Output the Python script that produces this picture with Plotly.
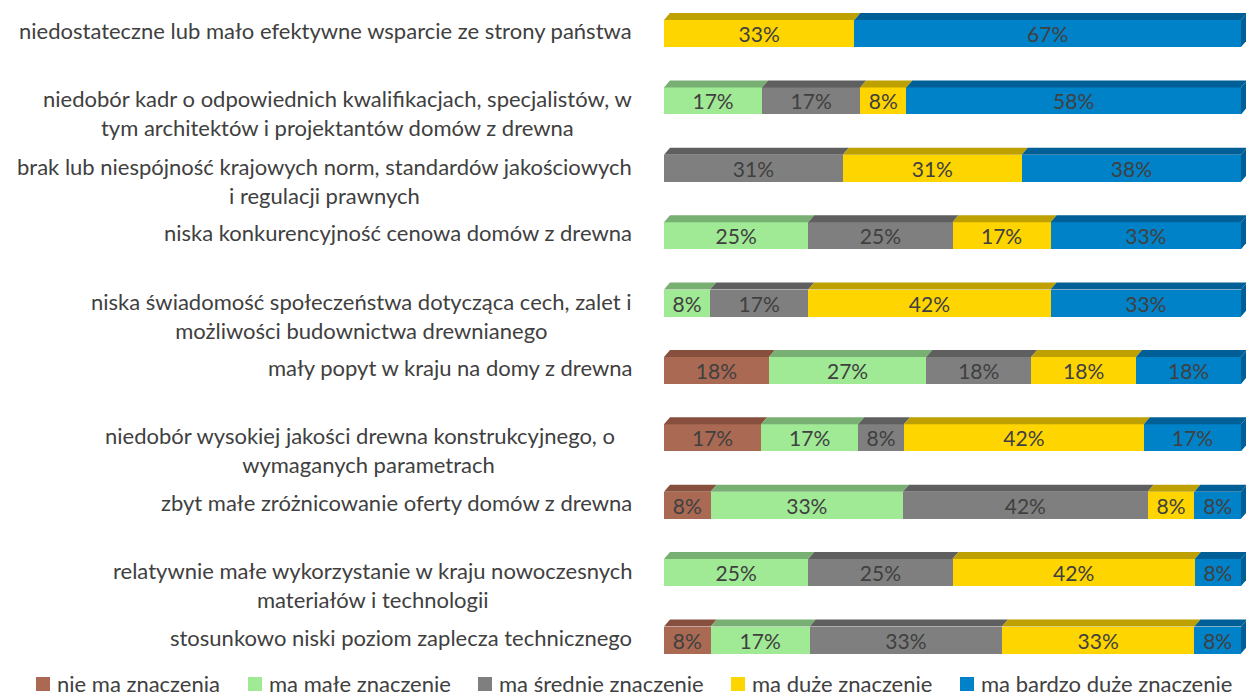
import numpy as np
import plotly.graph_objects as go

categories = [
    "niedostateczne lub mało efektywne wsparcie ze strony państwa",
    "niedobór kadr o odpowiednich kwalifikacjach, specjalistów, w<br>tym architektów i projektantów domów z drewna",
    "brak lub niespójność krajowych norm, standardów jakościowych<br>i regulacji prawnych",
    "niska konkurencyjność cenowa domów z drewna",
    "niska świadomość społeczeństwa dotycząca cech, zalet i<br>możliwości budownictwa drewnianego",
    "mały popyt w kraju na domy z drewna",
    "niedobór wysokiej jakości drewna konstrukcyjnego, o\u00a0\u00a0\u00a0<br>wymaganych parametrach",
    "zbyt małe zróżnicowanie oferty domów z drewna",
    "relatywnie małe wykorzystanie w kraju nowoczesnych<br>materiałów i technologii",
    "stosunkowo niski poziom zaplecza technicznego",
]

series_names = ["nie ma znaczenia", "ma małe znaczenie", "ma średnie znaczenie",
                "ma duże znaczenie", "ma bardzo duże znaczenie"]

nie_ma = [0, 0, 0, 0, 0, 18, 17, 8, 0, 8]
male = [0, 17, 0, 25, 8, 27, 17, 33, 25, 17]
srednie = [0, 17, 31, 25, 17, 18, 8, 42, 25, 33]
duze = [33, 8, 31, 17, 42, 18, 42, 8, 42, 33]
bardzo_duze = [67, 58, 38, 33, 33, 18, 17, 8, 8, 8]

series = [nie_ma, male, srednie, duze, bardzo_duze]
front_colors = ["#AA6953", "#A0EA96", "#7F7F7F", "#FFD500", "#0082C8"]
top_colors = ["#87503E", "#78AF73", "#5F5F5F", "#BEA000", "#005F96"]

FONT = "Lato"
TXT = "#404040"
LABEL_FS = 22
W, H = 1246, 696
L_PX, R_PX = 664, 1246
PLOT_BOTTOM = 665
PX_PER_UNIT = 577 / 100.0
ROW_PX = 67.39
xmax = 100 + (R_PX - L_PX - 577) / PX_PER_UNIT
y_top = -33.5 / ROW_PX
y_bot = 9 + (PLOT_BOTTOM - 640) / ROW_PX
BW = 27 / ROW_PX
DX = 6 / PX_PER_UNIT
DY = 7 / ROW_PX

idx = list(range(len(categories)))

fig = go.Figure()
for name, vals, col in zip(series_names, series, front_colors):
    fig.add_trace(go.Bar(
        y=idx, x=vals, orientation="h", name=name, width=BW,
        marker=dict(color=col, line=dict(width=0)),
        text=[f"{v}%" if v > 0 else "" for v in vals],
        textposition="inside", insidetextanchor="middle", textangle=0,
        textfont=dict(family=FONT, size=21, color=TXT),
        showlegend=False, hoverinfo="skip",
    ))

# 3D faces computed from the data
arr = np.array(series, dtype=float)
totals = arr.sum(axis=0)
shapes = []
for i in idx:
    yt = i - BW / 2
    yb = i + BW / 2
    cum = 0.0
    last_k = None
    for k in range(len(series)):
        v = arr[k, i] / totals[i] * 100
        if v <= 0:
            continue
        x0, x1 = cum, cum + v
        path = (f"M {x0},{yt} L {x1},{yt} L {x1 + DX},{yt - DY} "
                f"L {x0 + DX},{yt - DY} Z")
        shapes.append(dict(type="path", path=path, xref="x", yref="y",
                           fillcolor=top_colors[k], line=dict(width=0), layer="above"))
        cum = x1
        last_k = k
    path = (f"M {cum},{yt} L {cum},{yb} L {cum + DX},{yb - DY} "
            f"L {cum + DX},{yt - DY} Z")
    shapes.append(dict(type="path", path=path, xref="x", yref="y",
                       fillcolor=top_colors[last_k], line=dict(width=0), layer="above"))

# category labels
annotations = []
label_x = (634 - L_PX) / (R_PX - L_PX)
lab_font = dict(family=FONT, size=LABEL_FS, color=TXT)
for i, cat in enumerate(categories):
    two = "<br>" in cat
    annotations.append(dict(x=label_x, xref="paper", y=i, yref="y", text=cat,
                            showarrow=False, xanchor="right", yanchor="middle",
                            align="center", yshift=-12.5 if two else 3, font=lab_font))

# legend (manual)
leg_sq = [36, 248, 478, 731, 960]
leg_y = 684
def px_x(p):
    return (p - L_PX) / (R_PX - L_PX)
def px_y(p):
    return (PLOT_BOTTOM - p) / PLOT_BOTTOM
for name, col, sx in zip(series_names, front_colors, leg_sq):
    shapes.append(dict(type="rect", xref="paper", yref="paper",
                       x0=px_x(sx), x1=px_x(sx + 14), y0=px_y(leg_y + 7), y1=px_y(leg_y - 7),
                       fillcolor=col, line=dict(width=0)))
    annotations.append(dict(x=px_x(sx + 19), xref="paper", y=px_y(leg_y), yref="paper",
                            text=name, showarrow=False, xanchor="left", yanchor="middle",
                            font=dict(family=FONT, size=22, color=TXT)))

fig.update_layout(
    width=W, height=H,
    barmode="stack", barnorm="percent",
    margin=dict(l=L_PX, r=0, t=0, b=H - PLOT_BOTTOM),
    paper_bgcolor="white", plot_bgcolor="white",
    xaxis=dict(range=[0, xmax], visible=False, fixedrange=True),
    yaxis=dict(range=[y_bot, y_top], visible=False, fixedrange=True),
    shapes=shapes, annotations=annotations,
    uniformtext=dict(minsize=21, mode="show"),
    showlegend=False,
)

fig.write_html("out.html", config={"displayModeBar": False},
               post_script="document.body.style.margin='0';document.body.style.overflow='hidden';")
